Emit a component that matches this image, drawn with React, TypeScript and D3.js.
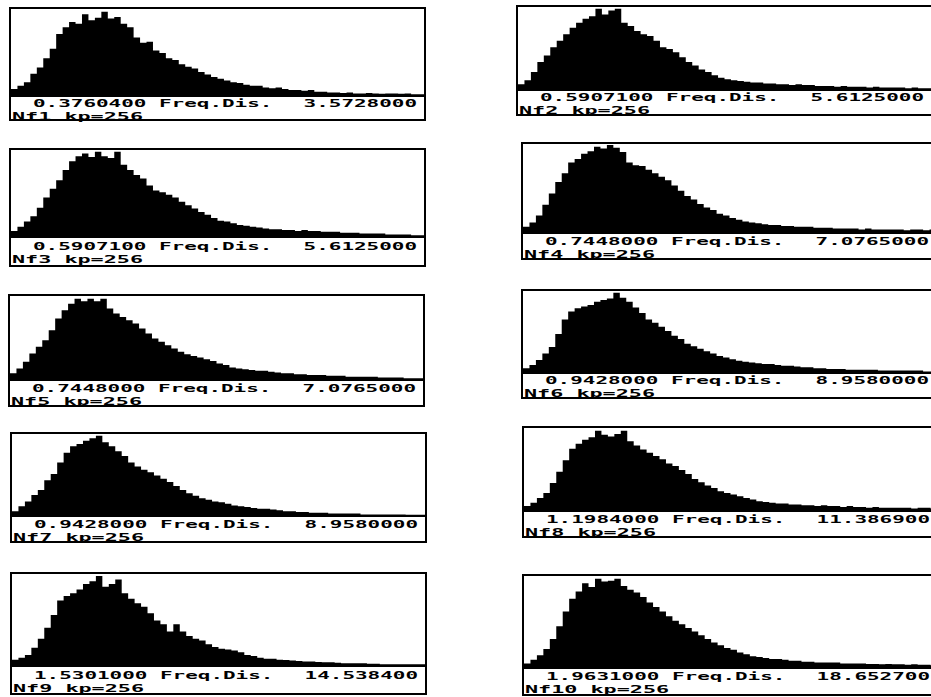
import React, { useEffect, useRef } from 'react';
import * as d3 from 'd3';

const panelNames = ['Nf1', 'Nf2', 'Nf3', 'Nf4', 'Nf5', 'Nf6', 'Nf7', 'Nf8', 'Nf9', 'Nf10'];
const minLabels = ['0.3760400', '0.5907100', '0.5907100', '0.7448000', '0.7448000', '0.9428000', '0.9428000', '1.1984000', '1.5301000', '1.9631000'];
const maxLabels = ['3.5728000', '5.6125000', '5.6125000', '7.0765000', '7.0765000', '8.9580000', '8.9580000', '11.386900', '14.538400', '18.652700'];
const kp = 256;

// relative frequency (peak ~ 100)
const nf1 = [8, 12, 16, 26, 33, 44, 55, 72, 80, 86, 84, 95, 88, 91, 98, 90, 92, 84, 80, 68, 62, 63, 53, 50, 44, 42, 37, 34, 32, 28, 25, 22, 20, 18, 16, 15, 13, 12, 12, 10, 9, 10, 8, 7, 7, 6, 7, 5, 5, 4, 4, 3.5, 4, 3, 3, 3.5, 3, 2.5, 3, 3, 2.5, 3, 2, 2];
const nf2 = [7, 12, 22, 34, 42, 52, 60, 68, 76, 82, 87, 90, 99, 92, 97, 99, 82, 78, 72, 68, 66, 60, 52, 50, 46, 40, 34, 30, 25, 22, 18, 15, 13, 12, 11, 10, 9, 9, 8, 8, 7, 7, 6, 7, 6, 6, 5, 5, 5, 4, 5, 4, 4, 4, 3, 4, 3, 3, 3, 3, 2, 3, 2, 2];
const nf3 = [7, 12, 18, 24, 34, 46, 56, 66, 78, 88, 94, 97, 93, 99, 94, 92, 99, 84, 78, 72, 68, 60, 54, 52, 49, 46, 41, 37, 33, 29, 26, 22, 19, 18, 16, 14, 13, 12, 11, 10, 9, 9, 8, 8, 7, 8, 7, 7, 6, 6, 6, 5, 5, 5, 4, 4, 4, 4, 3, 3, 3, 3, 2, 2];
const nf4 = [7, 12, 20, 32, 45, 58, 68, 80, 84, 90, 93, 98, 96, 100, 97, 92, 80, 77, 76, 72, 68, 64, 60, 54, 48, 42, 38, 33, 29, 26, 22, 20, 17, 15, 13, 12, 11, 10, 9, 9, 8, 8, 7, 7, 7, 6, 6, 6, 5, 5, 5, 5, 4, 5, 4, 4, 4, 4, 4, 3, 4, 4, 3, 4];
const nf5 = [8, 14, 22, 32, 40, 48, 60, 74, 84, 92, 98, 95, 98, 95, 98, 86, 80, 76, 72, 68, 62, 56, 50, 46, 42, 38, 34, 31, 29, 27, 25, 23, 20, 18, 15, 14, 13, 12, 11, 11, 10, 9, 8, 8, 7, 7, 6, 6, 6, 5, 5, 5, 4, 4, 4, 4, 4, 3, 3, 3, 3, 2, 2, 2];
const nf6 = [6, 10, 16, 24, 32, 48, 66, 76, 80, 82, 84, 88, 90, 92, 99, 93, 88, 81, 74, 66, 62, 57, 52, 46, 42, 36, 33, 30, 27, 24, 21, 19, 17, 15, 14, 13, 12, 11, 11, 10, 9, 9, 8, 7, 7, 6, 6, 5, 5, 5, 4, 4, 4, 4, 4, 3, 3, 3, 3, 3, 3, 3, 2, 2];
const nf7 = [6, 12, 18, 26, 32, 44, 52, 66, 78, 86, 89, 93, 96, 99, 91, 86, 80, 74, 66, 61, 57, 54, 50, 46, 42, 37, 32, 28, 25, 22, 20, 18, 17, 15, 13, 12, 11, 10, 9, 9, 8, 7, 6, 6, 5, 5, 4, 4, 4, 3, 3, 3, 3, 3, 2, 2, 2, 2, 2, 2, 2, 1.5, 1.5, 1.5];
const nf8 = [6, 10, 16, 22, 34, 48, 62, 76, 82, 87, 90, 98, 93, 91, 94, 98, 85, 80, 75, 71, 67, 63, 58, 55, 50, 45, 39, 35, 31, 28, 24, 22, 20, 18, 16, 14, 12, 11, 10, 9, 9, 8, 8, 7, 7, 6, 7, 6, 6, 5, 6, 5, 5, 4, 5, 4, 4, 4, 4, 4, 3, 4, 4, 3];
const nf9 = [7, 9, 12, 20, 30, 42, 56, 72, 77, 80, 84, 90, 93, 99, 87, 90, 95, 80, 74, 69, 65, 58, 50, 46, 38, 46, 38, 33, 30, 28, 24, 21, 19, 18, 17, 15, 12, 11, 9, 8, 8, 7, 6.5, 6, 5.5, 5, 5, 4.5, 4, 4, 3.5, 3, 3, 3, 3, 2.5, 2.5, 2, 2, 2, 2, 2, 2, 2];
const nf10 = [5, 9, 14, 21, 32, 46, 62, 76, 84, 93, 89, 98, 95, 96, 98, 90, 86, 83, 78, 72, 67, 62, 57, 52, 48, 44, 40, 36, 32, 28, 25, 22, 20, 17, 15, 13, 12, 11, 10, 10, 9, 8, 8, 7, 7, 6, 6, 6, 6, 5, 5, 5, 5, 4.5, 4.5, 4, 4.5, 4, 4, 3.5, 4, 3.5, 3.5, 3];

const series = [nf1, nf2, nf3, nf4, nf5, nf6, nf7, nf8, nf9, nf10];

// box geometry of each panel on the page
const boxW = 415;
const layout = [
  { x: 10, top: 8, sep: 96, bottom: 120 },
  { x: 517, top: 6, sep: 90, bottom: 115 },
  { x: 10, top: 149, sep: 237, bottom: 266 },
  { x: 522, top: 143, sep: 233, bottom: 259 },
  { x: 9, top: 295, sep: 380, bottom: 406 },
  { x: 522, top: 290, sep: 373, bottom: 398 },
  { x: 11, top: 433, sep: 516, bottom: 542 },
  { x: 523, top: 427, sep: 511, bottom: 537 },
  { x: 11, top: 573, sep: 666, bottom: 694 },
  { x: 523, top: 575, sep: 668, bottom: 695 },
];

const font = '"DejaVu Sans Mono", monospace';

export default function App() {
  const ref = useRef<SVGSVGElement>(null);

  useEffect(() => {
    document.body.style.margin = '0';
    const svg = d3.select(ref.current);
    svg.selectAll('*').remove();

    series.forEach((vals, i) => {
      const p = layout[i];
      const g = svg.append('g');

      const x = d3.scaleLinear().domain([0, vals.length]).range([p.x + 1, p.x + boxW - 1]);
      const y = d3.scaleLinear().domain([0, 100]).range([p.sep, p.top + 2]);

      const area = d3.area<number>()
        .x((d, j) => x(j))
        .y0(p.sep)
        .y1((d) => y(d))
        .curve(d3.curveStepAfter);

      g.append('path')
        .datum([...vals, vals[vals.length - 1]])
        .attr('d', area)
        .attr('fill', '#000');

      g.append('rect')
        .attr('x', p.x).attr('y', p.top)
        .attr('width', boxW).attr('height', p.bottom - p.top)
        .attr('fill', 'none').attr('stroke', '#000').attr('stroke-width', 2);

      g.append('line')
        .attr('x1', p.x).attr('x2', p.x + boxW)
        .attr('y1', p.sep).attr('y2', p.sep)
        .attr('stroke', '#000').attr('stroke-width', 2);

      const extra = Math.max(0, p.bottom - p.sep - 25);
      const row1 = p.sep + 11 + extra / 2;
      const row2 = row1 + 13.2;
      const txt = (s: string, tx: number, ty: number, cw: number, anchor = 'start') =>
        g.append('text')
          .attr('x', tx).attr('y', ty)
          .attr('text-anchor', anchor)
          .attr('font-family', font).attr('font-weight', 'bold').attr('font-size', 11.2)
          .attr('textLength', s.length * cw)
          .attr('lengthAdjust', 'spacingAndGlyphs')
          .attr('fill', '#000')
          .text(s);

      txt(minLabels[i], p.x + 23, row1, 12.6);
      txt('Freq.Dis.', p.x + 149, row1, 12.6);
      txt(maxLabels[i], p.x + 407, row1, 12.6, 'end');
      txt(`${panelNames[i]} kp=${kp}`, p.x + 2, row2, 13.1);
    });
  }, []);

  return <svg ref={ref} width={931} height={697} style={{ display: 'block', background: '#fff' }} />;
}
